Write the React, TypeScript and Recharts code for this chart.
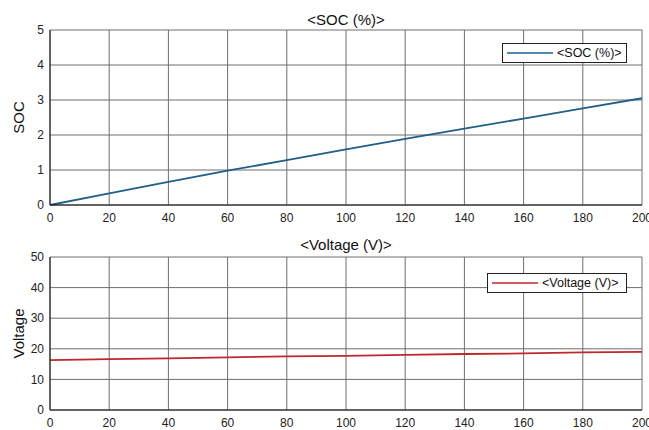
import React from "react";
import { LineChart, Line, XAxis, YAxis, CartesianGrid } from "recharts";

const timeSteps = [0, 20, 40, 60, 80, 100, 120, 140, 160, 180, 200];
const socValues = [0, 0.33, 0.66, 0.98, 1.28, 1.59, 1.89, 2.18, 2.47, 2.76, 3.05];
const voltageValues = [16.3, 16.6, 16.9, 17.2, 17.5, 17.7, 18.0, 18.3, 18.5, 18.8, 19.0];
const xTicks = [0, 20, 40, 60, 80, 100, 120, 140, 160, 180, 200];
const socTicks = [0, 1, 2, 3, 4, 5];
const voltageTicks = [0, 10, 20, 30, 40, 50];

const socData = timeSteps.map((t, i) => ({ t, v: socValues[i] }));
const voltageData = timeSteps.map((t, i) => ({ t, v: voltageValues[i] }));

const FONT = "'Liberation Sans', Arial, sans-serif";
const tickStyle = { fontSize: 12, fill: "#222", fontFamily: FONT };

function Subplot(props: {
  data: { t: number; v: number }[];
  yTicks: number[];
  yMax: number;
  color: string;
  yLabel: string;
  height: number;
  top: number;
}) {
  const { data, yTicks, yMax, color, yLabel, height, top } = props;
  return (
    <LineChart
      width={649}
      height={height}
      data={data}
      margin={{ top, right: 7, bottom: 0, left: 20 }}
      style={{ fontFamily: FONT }}
    >
      <CartesianGrid stroke="#6e6e6e" strokeWidth={1} />
      <XAxis
        dataKey="t"
        type="number"
        domain={[0, 200]}
        ticks={xTicks}
        tick={tickStyle}
        tickLine={false}
        tickSize={6}
        tickMargin={2}
        height={20}
        axisLine={{ stroke: "#111", strokeWidth: 1 }}
        interval={0}
      />
      <XAxis
        xAxisId="top"
        orientation="top"
        type="number"
        domain={[0, 200]}
        tick={false}
        tickLine={false}
        height={0}
        axisLine={{ stroke: "#111", strokeWidth: 1 }}
      />
      <YAxis
        type="number"
        domain={[0, yMax]}
        ticks={yTicks}
        tick={tickStyle}
        tickLine={false}
        tickSize={4}
        tickMargin={2}
        width={30}
        axisLine={{ stroke: "#111", strokeWidth: 1 }}
        interval={0}
        label={{
          value: yLabel,
          angle: -90,
          position: "insideLeft",
          offset: -1,
          style: { fontSize: 15, fill: "#111", fontFamily: FONT, textAnchor: "middle" },
        }}
      />
      <YAxis
        yAxisId="right"
        orientation="right"
        type="number"
        domain={[0, yMax]}
        tick={false}
        tickLine={false}
        width={0}
        axisLine={{ stroke: "#111", strokeWidth: 1 }}
      />
      <Line
        dataKey="v"
        stroke={color}
        strokeWidth={1.8}
        dot={false}
        isAnimationActive={false}
        type="linear"
      />
    </LineChart>
  );
}

function LegendBox(props: { left: number; top: number; width: number; color: string; text: string }) {
  const { left, top, width, color, text } = props;
  return (
    <div
      style={{
        position: "absolute",
        left,
        top,
        width,
        height: 18,
        border: "1px solid #222",
        background: "#fff",
        display: "flex",
        alignItems: "center",
        fontFamily: FONT,
        fontSize: 12.5,
        color: "#111",
        boxSizing: "content-box",
      }}
    >
      <svg width={54} height={18} style={{ display: "block" }}>
        <line x1={4} x2={50} y1={9} y2={9} stroke={color} strokeWidth={1.6} />
      </svg>
      <span>{text}</span>
    </div>
  );
}

export default function App() {
  return (
    <div
      style={{
        position: "absolute",
        left: 0,
        top: 0,
        width: 649,
        height: 430,
        background: "#fff",
        overflow: "hidden",
      }}
    >
      <div style={{ position: "absolute", left: 0, top: 0 }}>
        <Subplot data={socData} yTicks={socTicks} yMax={5} color="#1f5f88" yLabel="SOC" height={225} top={30} />
      </div>
      <div style={{ position: "absolute", left: 0, top: 225 }}>
        <Subplot
          data={voltageData}
          yTicks={voltageTicks}
          yMax={50}
          color="#c0272d"
          yLabel="Voltage"
          height={205}
          top={32}
        />
      </div>
      <div
        style={{
          position: "absolute",
          left: 50,
          width: 592,
          top: 11,
          textAlign: "center",
          fontFamily: FONT,
          fontSize: 15,
          color: "#111",
        }}
      >
        {"<SOC (%)>"}
      </div>
      <div
        style={{
          position: "absolute",
          left: 50,
          width: 592,
          top: 236,
          textAlign: "center",
          fontFamily: FONT,
          fontSize: 15,
          color: "#111",
        }}
      >
        {"<Voltage (V)>"}
      </div>
      <LegendBox left={502} top={43} width={123} color="#1f5f88" text="<SOC (%)>" />
      <LegendBox left={487} top={273} width={138} color="#c0272d" text="<Voltage (V)>" />
    </div>
  );
}
